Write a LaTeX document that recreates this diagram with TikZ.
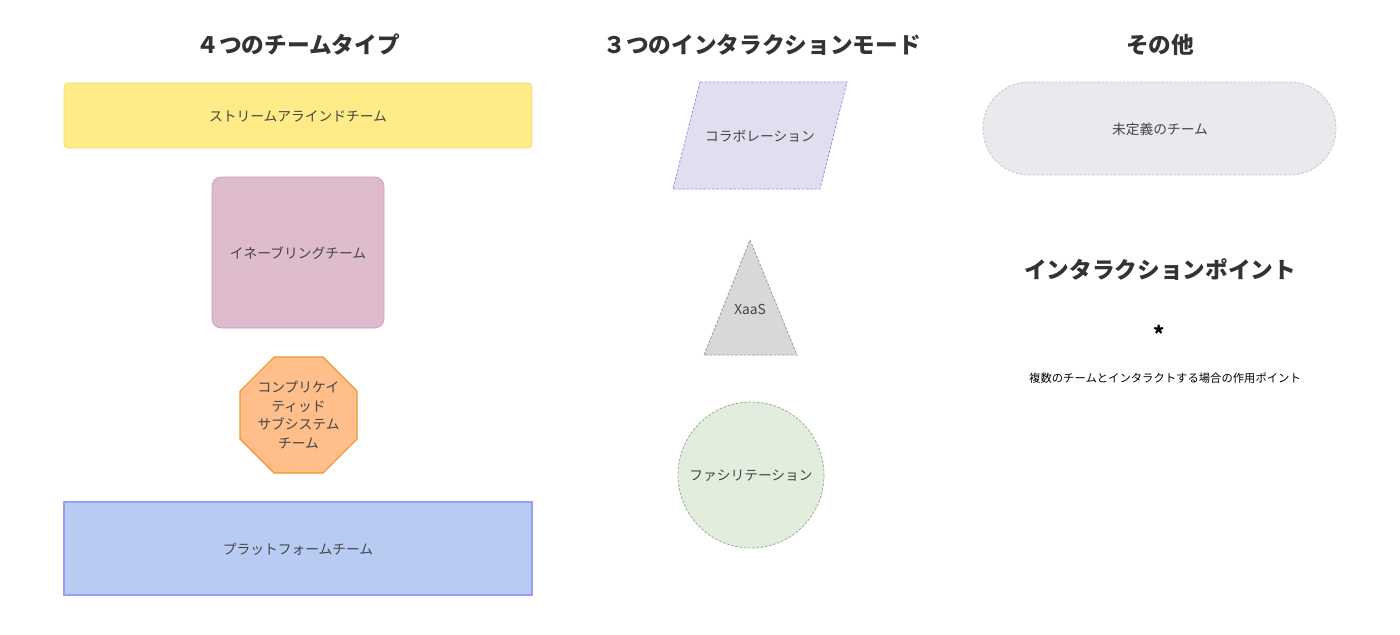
\documentclass[tikz,border=0pt]{standalone}
\usepackage{fontspec}
\setmainfont{Noto Sans CJK JP}
\usetikzlibrary{shapes.geometric}
\definecolor{titlec}{HTML}{333333}
\definecolor{labelc}{HTML}{444444}
\definecolor{yellowf}{HTML}{FFEB87}
\definecolor{yellowd}{HTML}{F7DC70}
\definecolor{pinkf}{HTML}{DFBBCE}
\definecolor{pinkd}{HTML}{D39CBD}
\definecolor{orangef}{HTML}{FFBE8A}
\definecolor{oranged}{HTML}{EF9532}
\definecolor{bluef}{HTML}{B8CCF3}
\definecolor{blued}{HTML}{9A9CF5}
\definecolor{purplef}{HTML}{E2DDEF}
\definecolor{purpled}{HTML}{9D8CEB}
\definecolor{grayf}{HTML}{D8D8D8}
\definecolor{grayd}{HTML}{9A9A9A}
\definecolor{greenf}{HTML}{E2EDDD}
\definecolor{greend}{HTML}{95B092}
\definecolor{stadf}{HTML}{EAE9EE}
\definecolor{stadd}{HTML}{C6C6CA}
\tikzset{
  title/.style={text=titlec, font=\bfseries\fontsize{17}{20}\selectfont, inner sep=0pt},
  lbl/.style={text=labelc, font=\fontsize{10.3}{13}\selectfont, inner sep=0pt, align=center},
  small/.style={text=black, font=\fontsize{8.5}{10}\selectfont, inner sep=0pt},
  dsh/.style={dash pattern=on 2pt off 1.2pt, line width=0.6pt},
}
\begin{document}
\begin{tikzpicture}[x=0.75pt,y=-0.75pt]
\useasboundingbox (0,0) rectangle (1400,635);
% titles
\node[title] (t1) at (298,45) {４つのチームタイプ};
\node[title] (t2) at (762,45) {３つのインタラクションモード};
\node[title] (t3) at (1160,45) {その他};
% stream-aligned
\draw[fill=yellowf, draw=yellowd, rounded corners=3pt, line width=0.6pt] (64,83) rectangle (532,148);
\node[lbl] (sa) at (298,116) {ストリームアラインドチーム};
% enabling
\draw[fill=pinkf, draw=pinkd, rounded corners=7pt, line width=0.6pt] (212,177) rectangle (384,328);
\node[lbl] (en) at (298,253) {イネーブリングチーム};
% complicated subsystem
\draw[fill=orangef, draw=oranged, line width=0.8pt] (274,357) -- (323,357) -- (357,391) -- (357,439) -- (323,473) -- (274,473) -- (240,439) -- (240,391) -- cycle;
\node[lbl, text width=90pt, font=\fontsize{10.3}{14}\selectfont] (cs) at (298.5,415) {コンプリケイ\\ティッド\\サブシステム\\チーム};
% platform
\draw[fill=bluef, draw=blued, line width=0.8pt] (64,502) rectangle (532,595);
\node[lbl] (pf) at (298,549) {プラットフォームチーム};
% collaboration
\draw[fill=purplef, draw=purpled, dsh] (700,82) -- (847,82) -- (820,189) -- (673,189) -- cycle;
\node[lbl] (co) at (760,136) {コラボレーション};
% XaaS
\draw[fill=grayf, draw=grayd, dsh] (750,240) -- (797,355) -- (704,355) -- cycle;
\node[lbl, font=\fontsize{10.3}{12}\selectfont] (xa) at (750,309) {XaaS};
% facilitation
\draw[fill=greenf, draw=greend, dsh] (751,475) circle (73);
\node[lbl] (fa) at (751,476) {ファシリテーション};
% undefined
\draw[fill=stadf, draw=stadd, dsh, rounded corners=34.5pt] (983,82) rectangle (1336,175);
\node[lbl] (ud) at (1160,129) {未定義のチーム};
% interaction point
\node[title] (t4) at (1160,270) {インタラクションポイント};
\node[text=black, font=\bfseries\fontsize{16}{16}\selectfont, inner sep=0pt] (ip) at (1159,334) {*};
\node[small] (ipd) at (1165,378) {複数のチームとインタラクトする場合の作用ポイント};
\end{tikzpicture}
\end{document}
